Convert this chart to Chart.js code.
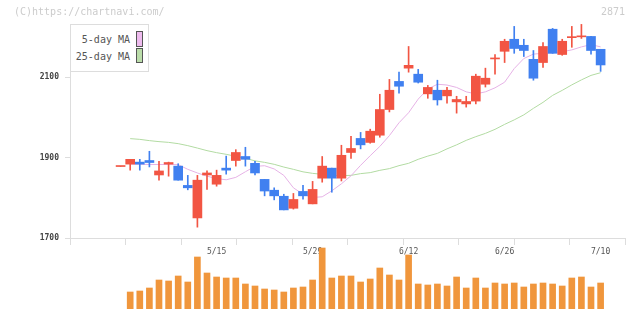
<!DOCTYPE html>
<html>
<head>
<meta charset="utf-8">
<script src="https://cdn.jsdelivr.net/npm/chart.js@4.4.0/dist/chart.umd.min.js"></script>
<style>
  body { margin: 0; background: #fff; }
  #wrap { position: relative; width: 640px; height: 311px; font-family: 'DejaVu Sans Mono', monospace; }
  #wrap canvas { position: absolute; left: 0; top: 0; }
  .copy { position: absolute; left: 14px; top: 6px; font-size: 10px; line-height: 12px; color: #ccc; }
  .code { position: absolute; right: 15px; top: 6px; font-size: 10px; line-height: 12px; color: #ccc; }
  .legend { position: absolute; left: 70px; top: 24px; width: 79px; height: 48px; box-sizing: border-box;
            border: 1px solid #ddd; background: #fff; font-size: 10px; line-height: 12px; color: #555; z-index: 2; }
  .legend .t { position: absolute; left: 0; width: 59px; text-align: right; }
  .legend .s { position: absolute; left: 65px; width: 7px; box-sizing: border-box; border: 1px solid #555; }
</style>
</head>
<body>
<div id="wrap">
  <canvas id="price" width="640" height="311"></canvas>
  <canvas id="vol" width="640" height="311"></canvas>
  <div class="copy">(C)https://chartnavi.com/</div>
  <div class="code">2871</div>
  <div class="legend">
    <span class="t" style="top:9px">5-day MA</span><span class="s" style="top:6px;height:16px;background:#eebbee"></span>
    <span class="t" style="top:26px">25-day MA</span><span class="s" style="top:23px;height:15px;background:#bbddaa"></span>
  </div>
</div>
<script>
// trading days shown (first one has no volume / MA)
const dates = ['4/26','4/27','4/28','5/1','5/2','5/8','5/9','5/10','5/11','5/12',
  '5/15','5/16','5/17','5/18','5/19','5/22','5/23','5/24','5/25','5/26',
  '5/29','5/30','5/31','6/1','6/2','6/5','6/6','6/7','6/8','6/9',
  '6/12','6/13','6/14','6/15','6/16','6/19','6/20','6/21','6/22','6/23',
  '6/26','6/27','6/28','6/29','6/30','7/3','7/4','7/5','7/6','7/7','7/10'];
const labelDates = ['5/15','5/29','6/12','6/26','7/10'];

const open  = [1878,1884,1889,1893,1857,1884,1879,1831,1750,1857,
  1834,1874,1893,1903,1886,1846,1819,1804,1774,1816,
  1785,1849,1874,1849,1913,1948,1938,1956,2020,2090,
  2123,2108,2059,2068,2054,2039,2034,2041,2083,2146,
  2165,2195,2180,2145,2137,2220,2157,2199,2201,2202,2170];
const high  = [1878,1896,1896,1916,1891,1889,1885,1856,1856,1867,
  1869,1904,1920,1926,1891,1846,1825,1809,1811,1831,
  1841,1903,1874,1931,1953,1963,1971,2058,2095,2113,
  2177,2120,2080,2093,2075,2053,2053,2108,2123,2157,
  2195,2227,2195,2167,2187,2222,2195,2227,2232,2202,2170];
const low   = [1878,1869,1869,1877,1844,1854,1844,1820,1727,1821,
  1829,1859,1879,1879,1857,1805,1795,1770,1772,1797,
  1785,1839,1814,1842,1898,1922,1936,1951,2014,2061,
  2113,2086,2048,2031,2036,2011,2026,2034,2076,2108,
  2137,2160,2152,2093,2125,2160,2155,2175,2197,2158,2115];
const close = [1878,1896,1884,1888,1867,1888,1844,1825,1844,1862,
  1856,1869,1913,1896,1862,1817,1805,1770,1796,1805,
  1821,1879,1849,1906,1923,1932,1966,2020,2068,2078,
  2130,2088,2075,2044,2068,2045,2040,2103,2098,2147,
  2190,2172,2167,2098,2177,2160,2190,2200,2202,2167,2131];
const volume = [null,170,180,210,290,280,330,270,520,360,
  320,310,310,250,230,200,190,170,210,220,
  290,610,310,330,330,270,300,410,340,290,
  540,250,240,250,230,320,210,310,210,260,
  250,260,220,250,260,250,230,310,320,220,260];
const ma5 = [null,1884,1883.5,1883,1883,1883,1882.7,1871,1862,1854,
  1848,1845,1851,1865,1878.5,1880,1872,1856,1825,1809,
  1801,1802.6,1817.5,1835,1855,1881,1905,1928,1955,1987,
  2012,2046,2071,2083,2081,2075,2064,2059,2064,2074,
  2088,2122,2147,2158,2160,2161,2164,2168.5,2176,2181.6,2176];
const ma25 = [null,1947.5,1945.7,1942.5,1940,1938.2,1935,1930,1924,1917.6,
  1912.6,1908.4,1903.4,1898.4,1892.2,1888.4,1883.5,1876.7,1871,1864.8,
  1861,1858.6,1856,1855.3,1856,1860.3,1862.8,1868.5,1872.8,1880.2,
  1886,1896,1904,1910.8,1922,1932,1943.2,1952.4,1960.6,1970.6,
  1983,1994.2,2006.7,2022.9,2037.8,2055.2,2067.7,2081.4,2093.8,2105,2111.7];
const yTicks = [1700, 1900, 2100];

const UP = '#f25543', DOWN = '#4080f0';
const X_MIN = -5.27, X_MAX = 52.54;
const candleColor = close.map((c, i) => c >= open[i] ? UP : DOWN);

Chart.defaults.font.family = "'DejaVu Sans Mono', monospace";

const dateLabels = {
  id: 'dateLabels',
  afterDraw(chart) {
    const { ctx, scales: { x } } = chart;
    ctx.save();
    ctx.font = "8px 'DejaVu Sans Mono'";
    ctx.fillStyle = '#555';
    ctx.textAlign = 'center';
    ctx.textBaseline = 'middle';
    labelDates.forEach(d => {
      const i = dates.indexOf(d);
      ctx.fillText(d, x.getPixelForValue(i), 252);
    });
    ctx.restore();
  }
};

new Chart(document.getElementById('price'), {
  type: 'bar',
  data: {
    datasets: [
      { type: 'line', data: ma5.map((v, i) => ({ x: i, y: v })), borderColor: '#e6b2e6',
        borderWidth: 1, pointRadius: 0, order: 3 },
      { type: 'line', data: ma25.map((v, i) => ({ x: i, y: v })), borderColor: '#b2dba2',
        borderWidth: 1, pointRadius: 0, order: 3 },
      { data: low.map((l, i) => ({ x: i, y: [l, high[i]] })), backgroundColor: candleColor,
        barThickness: 1, grouped: false, order: 2 },
      { data: open.map((o, i) => ({ x: i, y: [o, close[i]] })), backgroundColor: candleColor,
        barThickness: 9, minBarLength: 1, grouped: false, order: 1 }
    ]
  },
  options: {
    responsive: false, animation: false, devicePixelRatio: 1, events: [],
    layout: { padding: { left: 0, right: 15, top: 24, bottom: 65 } },
    plugins: { legend: { display: false }, tooltip: { enabled: false } },
    scales: {
      x: {
        type: 'linear', min: X_MIN, max: X_MAX, offset: false,
        afterBuildTicks: s => { s.ticks = Array.from({ length: 11 }, (_, k) => ({ value: X_MIN + k * (X_MAX - X_MIN) / 10 })); },
        ticks: { display: false },
        grid: { drawOnChartArea: false, offset: false, tickLength: 7, color: '#ddd' },
        border: { color: '#ddd' },
        afterFit: s => { s.height = 8; }
      },
      y: {
        min: 1700, max: 2233,
        afterBuildTicks: s => { s.ticks = yTicks.map(v => ({ value: v })); },
        ticks: { font: { size: 8, weight: 'bold' }, color: '#444', padding: 6, callback: v => String(v) },
        grid: { drawOnChartArea: false, tickLength: 5, color: '#ddd' },
        border: { color: '#ddd' },
        afterFit: s => { s.width = 70; }
      }
    }
  },
  plugins: [dateLabels]
});

new Chart(document.getElementById('vol'), {
  type: 'bar',
  data: {
    datasets: [{ data: volume.map((v, i) => ({ x: i, y: v })), backgroundColor: '#f0963c',
      barThickness: 6, grouped: false }]
  },
  options: {
    responsive: false, animation: false, devicePixelRatio: 1, events: [],
    layout: { padding: { left: 70, right: 15, top: 246, bottom: 2 } },
    plugins: { legend: { display: false }, tooltip: { enabled: false } },
    scales: {
      x: { type: 'linear', min: X_MIN, max: X_MAX, offset: false, display: false },
      y: { min: 0, max: 630, display: false }
    }
  }
});
</script>
</body>
</html>
